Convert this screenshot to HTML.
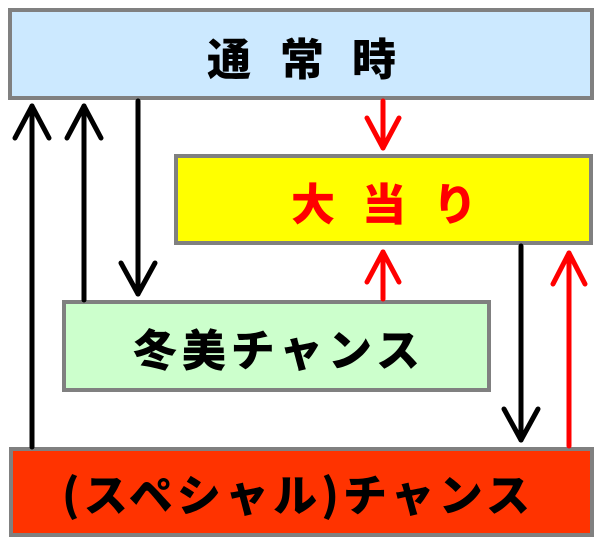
<!DOCTYPE html>
<html><head><meta charset="utf-8"><style>
html,body{margin:0;padding:0;background:#fff;width:600px;height:547px;overflow:hidden}
text{font-family:"Noto Sans CJK JP","Liberation Sans",sans-serif;font-weight:900;dominant-baseline:central}
</style></head><body>
<svg width="600" height="547" viewBox="0 0 600 547" xmlns="http://www.w3.org/2000/svg">
<g stroke="#808080" stroke-width="4">
<rect x="10" y="10" width="582" height="88" fill="#cce9ff"/>
<rect x="176" y="156" width="415" height="87" fill="#ffff00"/>
<rect x="64" y="302" width="425" height="88" fill="#ccffcc"/>
<rect x="11" y="449" width="581" height="86" fill="#ff3300"/>
</g>
<g fill="none" stroke-linecap="round" stroke-linejoin="round" stroke-width="5">
<g stroke="#000">
<line x1="32" y1="447" x2="32" y2="106"/><polyline points="15,138 32,106 49,138"/>
<line x1="84" y1="300" x2="84" y2="106"/><polyline points="67,138 84,106 101,138"/>
<line x1="138" y1="101" x2="138" y2="294"/><polyline points="121,263 138,294 155,263"/>
<line x1="521" y1="246" x2="521" y2="440"/><polyline points="504,409 521,440 538,409"/>
</g>
<g stroke="#ff0000">
<line x1="383" y1="101" x2="383" y2="148"/><polyline points="367,118 383,148 399,118"/>
<line x1="383" y1="299" x2="383" y2="252"/><polyline points="367,282 383,252 399,282"/>
<line x1="569" y1="446" x2="569" y2="253"/><polyline points="553,284 569,253 585,284"/>
</g>
</g>
<g font-size="44" text-anchor="middle" fill="#000">
<text x="229" y="56">通</text><text x="302" y="56">常</text><text x="374" y="56">時</text>
</g>
<g font-size="44" text-anchor="middle" fill="#ff0000">
<text x="313" y="201">大</text><text x="384" y="201">当</text><text x="455" y="201">り</text>
</g>
<text x="133" y="347" font-size="44" fill="#000" textLength="287" lengthAdjust="spacing">冬美チャンス</text>
<text x="62" y="492" font-size="44" fill="#000" textLength="468" lengthAdjust="spacing">(スペシャル)チャンス</text>
</svg>
</body></html>
